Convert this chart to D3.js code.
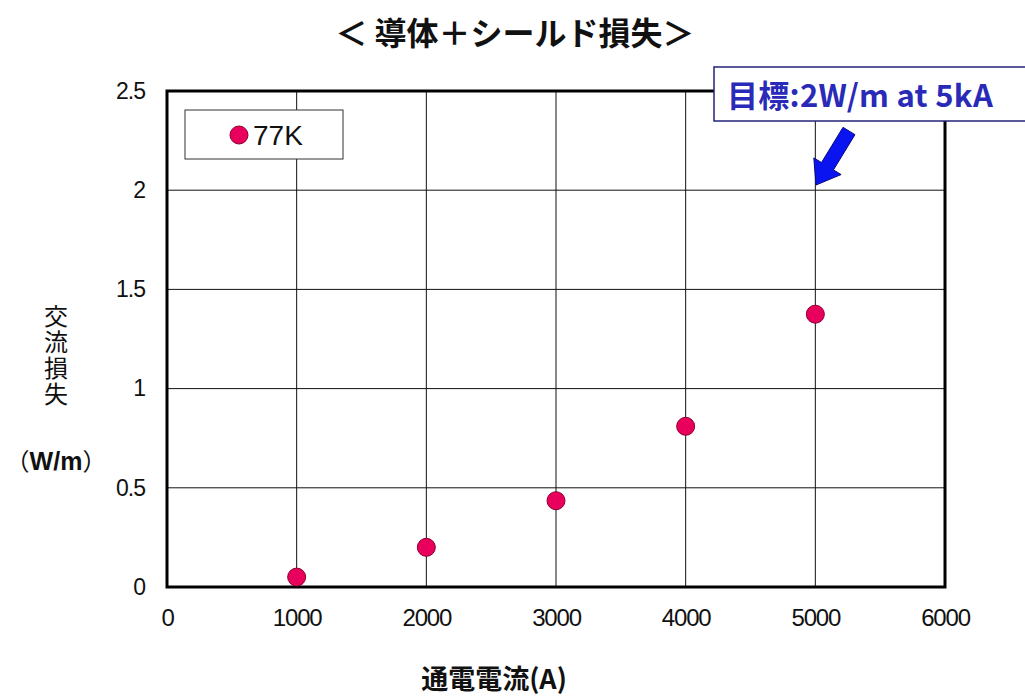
<!DOCTYPE html>
<html>
<head>
<meta charset="utf-8">
<script src="https://cdn.jsdelivr.net/npm/d3@7"></script>
<style>
  body { margin: 0; background: #fff; }
  svg { display: block; }
</style>
</head>
<body>
<div id="chart"></div>
<script>
const currents = [1000, 2000, 3000, 4000, 5000];
const losses = [0.05, 0.2, 0.435, 0.81, 1.375];
const xTicks = [0, 1000, 2000, 3000, 4000, 5000, 6000];
const yTicks = [0, 0.5, 1, 1.5, 2, 2.5];
const yTickLabels = ["0", "0.5", "1", "1.5", "2", "2.5"];
const seriesName = "77K";
const titleText = "＜ 導体＋シールド損失＞";
const targetText = "目標:2W/m at 5kA";
const yLabelText = "交流損失";
const yUnit = "W/m";
const xLabelText = "通電電流(A)";

const width = 1025, height = 697;
const plotL = 167, plotR = 945, plotT = 91, plotB = 587;
const jp = "'Noto Sans CJK JP', sans-serif";
const num = "'Liberation Sans', Arial, sans-serif";

const svg = d3.select("#chart").append("svg")
  .attr("width", width)
  .attr("height", height);

const x = d3.scaleLinear().domain([0, 6000]).range([plotL, plotR]);
const y = d3.scaleLinear().domain([0, 2.5]).range([plotB, plotT]);

// grid
svg.append("g").selectAll("line")
  .data(xTicks.slice(1, -1))
  .enter().append("line")
  .attr("x1", d => x(d)).attr("x2", d => x(d))
  .attr("y1", plotT).attr("y2", plotB)
  .attr("stroke", "#111").attr("stroke-width", 1);

svg.append("g").selectAll("line")
  .data(yTicks.slice(1, -1))
  .enter().append("line")
  .attr("x1", plotL).attr("x2", plotR)
  .attr("y1", d => y(d)).attr("y2", d => y(d))
  .attr("stroke", "#111").attr("stroke-width", 1);

// frame
svg.append("rect")
  .attr("x", plotL).attr("y", plotT)
  .attr("width", plotR - plotL).attr("height", plotB - plotT)
  .attr("fill", "none").attr("stroke", "#000").attr("stroke-width", 3);

// axes
const xAxis = svg.append("g")
  .attr("transform", `translate(0,${plotB + 19})`)
  .call(d3.axisBottom(x).tickValues(xTicks).tickSize(0).tickFormat(d3.format("d")));
xAxis.select(".domain").remove();
xAxis.selectAll(".tick text")
  .attr("dy", "0.71em")
  .style("font-family", num).style("font-size", "24px").attr("fill", "#111")
  .style("letter-spacing", "-1.2px");

const yAxis = svg.append("g")
  .attr("transform", `translate(${plotL - 19},0)`)
  .call(d3.axisLeft(y).tickValues(yTicks).tickSize(0).tickFormat((d, i) => yTickLabels[i]));
yAxis.select(".domain").remove();
yAxis.selectAll(".tick text")
  .style("font-family", num).style("font-size", "23px").attr("fill", "#111")
  .style("letter-spacing", "-1px");

// points
svg.append("g").selectAll("circle")
  .data(currents)
  .enter().append("circle")
  .attr("cx", d => x(d))
  .attr("cy", (d, i) => y(losses[i]))
  .attr("r", 9)
  .attr("fill", "#e8005c")
  .attr("stroke", "#8a0030").attr("stroke-width", 1);

// legend
svg.append("rect")
  .attr("x", 185).attr("y", 110).attr("width", 158).attr("height", 49)
  .attr("fill", "#fff").attr("stroke", "#333").attr("stroke-width", 1);
svg.append("circle")
  .attr("cx", 239).attr("cy", 135).attr("r", 9)
  .attr("fill", "#e8005c").attr("stroke", "#8a0030").attr("stroke-width", 1);
svg.append("text")
  .attr("x", 253).attr("y", 145)
  .style("font-family", num).style("font-size", "28px")
  .attr("fill", "#111").text(seriesName);

// title
svg.append("text")
  .attr("x", 515).attr("y", 45).attr("text-anchor", "middle")
  .style("font-family", jp).style("font-size", "32px").style("font-weight", "bold")
  .attr("fill", "#111").attr("xml:space", "preserve").text(titleText);

// target annotation
svg.append("rect")
  .attr("x", 714).attr("y", 67).attr("width", 330).attr("height", 54)
  .attr("fill", "#fff").attr("stroke", "#22227a").attr("stroke-width", 1.5);
svg.append("text")
  .attr("x", 727).attr("y", 107)
  .style("font-family", jp).style("font-size", "31px").style("font-weight", "bold")
  .attr("fill", "#2a2ab8").style("letter-spacing", "0.3px").text(targetText);

// arrow
const tail = [849, 131], tip = [816, 185];
const ang = Math.atan2(tip[1] - tail[1], tip[0] - tail[0]);
const len = Math.hypot(tip[0] - tail[0], tip[1] - tail[1]);
const headLen = 22, shaftW = 7, headW = 16;
const arrowPts = [
  [0, -shaftW], [len - headLen, -shaftW], [len - headLen, -headW],
  [len, 0], [len - headLen, headW], [len - headLen, shaftW], [0, shaftW]
].map(([u, v]) => [
  tail[0] + u * Math.cos(ang) - v * Math.sin(ang),
  tail[1] + u * Math.sin(ang) + v * Math.cos(ang)
]);
svg.append("polygon")
  .attr("points", arrowPts.map(p => p.join(",")).join(" "))
  .attr("fill", "#0a14f0").attr("stroke", "#0a0a80").attr("stroke-width", 1);

// y label (vertical)
svg.append("text")
  .attr("x", 56).attr("y", 304)
  .style("writing-mode", "vertical-rl")
  .style("font-family", jp).style("font-size", "24px")
  .style("letter-spacing", "2px")
  .attr("fill", "#111").text(yLabelText);
const unit = svg.append("text")
  .attr("x", 56).attr("y", 470).attr("text-anchor", "middle")
  .style("font-family", jp).style("font-size", "24px")
  .attr("fill", "#111");
unit.append("tspan").text("（");
unit.append("tspan").style("font-family", num).style("font-weight", "bold")
  .style("font-size", "25px").text(yUnit);
unit.append("tspan").text("）");

// x label
svg.append("text")
  .attr("x", 494).attr("y", 689).attr("text-anchor", "middle")
  .style("font-family", jp).style("font-size", "27px").style("font-weight", "bold")
  .attr("fill", "#111").text(xLabelText);
</script>
</body>
</html>
